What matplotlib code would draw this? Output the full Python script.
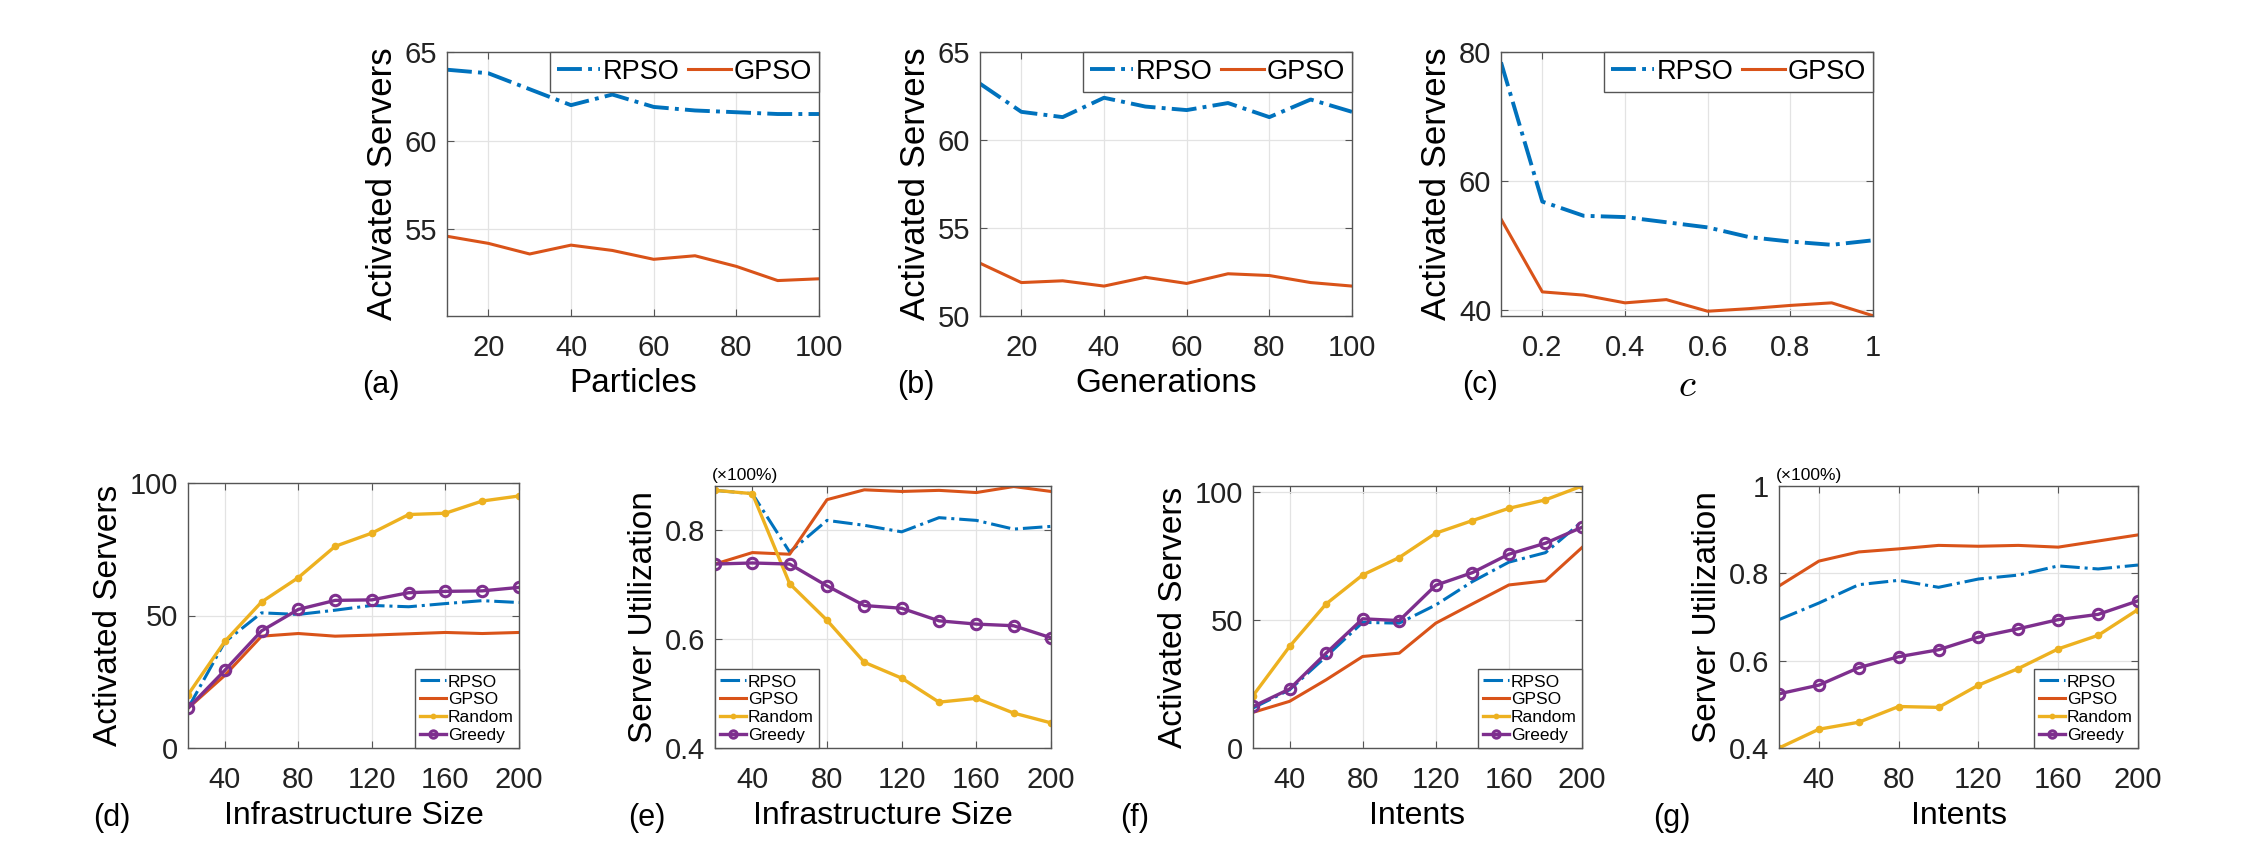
import matplotlib
matplotlib.use("Agg")
import matplotlib.pyplot as plt
from matplotlib.ticker import FuncFormatter

plt.rcParams['font.family'] = ['Liberation Sans', 'DejaVu Sans']
plt.rcParams['mathtext.fontset'] = 'cm'

# --- data: top row (parameter sensitivity) ---
particles = [10, 20, 30, 40, 50, 60, 70, 80, 90, 100]
part_rpso = [64.0, 63.8, 62.9, 62.0, 62.6, 61.9, 61.7, 61.6, 61.5, 61.5]
part_gpso = [54.6, 54.2, 53.6, 54.1, 53.8, 53.3, 53.5, 52.9, 52.1, 52.2]

generations = [10, 20, 30, 40, 50, 60, 70, 80, 90, 100]
gen_rpso = [63.2, 61.6, 61.3, 62.4, 61.9, 61.7, 62.1, 61.3, 62.3, 61.6]
gen_gpso = [53.0, 51.9, 52.0, 51.7, 52.2, 51.85, 52.4, 52.3, 51.9, 51.7]

c_vals = [0.1, 0.2, 0.3, 0.4, 0.5, 0.6, 0.7, 0.8, 0.9, 1.0]
c_rpso = [78.4, 56.8, 54.6, 54.4, 53.6, 52.8, 51.3, 50.6, 50.1, 50.8]
c_gpso = [54.1, 42.8, 42.3, 41.1, 41.6, 39.8, 40.2, 40.7, 41.1, 39.1]

# --- data: bottom row (comparison) ---
sizes = [20, 40, 60, 80, 100, 120, 140, 160, 180, 200]
infra_act_rpso = [15.0, 40.0, 51.0, 50.4, 52.0, 53.8, 53.3, 54.5, 55.6, 54.9]
infra_act_gpso = [15.0, 27.4, 42.2, 43.2, 42.2, 42.6, 43.1, 43.6, 43.2, 43.6]
infra_act_random = [20.1, 40.2, 55.1, 64.3, 76.1, 81.1, 88.1, 88.6, 93.2, 95.1]
infra_act_greedy = [15.0, 29.3, 44.2, 52.3, 55.7, 55.9, 58.6, 59.1, 59.3, 60.6]

infra_util_rpso = [0.872, 0.866, 0.759, 0.817, 0.808, 0.796, 0.822, 0.817, 0.801, 0.806]
infra_util_gpso = [0.737, 0.758, 0.755, 0.855, 0.873, 0.870, 0.872, 0.868, 0.879, 0.870]
infra_util_random = [0.872, 0.866, 0.701, 0.634, 0.557, 0.528, 0.484, 0.491, 0.464, 0.446]
infra_util_greedy = [0.737, 0.739, 0.737, 0.697, 0.661, 0.656, 0.633, 0.627, 0.624, 0.602]

intents = [20, 40, 60, 80, 100, 120, 140, 160, 180, 200]
int_act_rpso = [15.6, 22.7, 35.7, 49.0, 48.7, 55.8, 64.9, 72.5, 76.2, 88.3]
int_act_gpso = [13.9, 18.2, 26.6, 35.7, 37.0, 48.7, 56.2, 63.6, 65.2, 78.2]
int_act_random = [20.4, 39.6, 56.2, 67.5, 74.3, 83.8, 88.7, 93.5, 96.8, 102.2]
int_act_greedy = [16.2, 23.0, 37.0, 50.4, 49.7, 63.5, 68.4, 75.6, 79.9, 86.1]

int_util_rpso = [0.694, 0.732, 0.774, 0.784, 0.768, 0.787, 0.796, 0.817, 0.810, 0.819]
int_util_gpso = [0.771, 0.828, 0.849, 0.856, 0.864, 0.862, 0.864, 0.860, 0.874, 0.888]
int_util_random = [0.400, 0.443, 0.459, 0.495, 0.493, 0.544, 0.582, 0.627, 0.658, 0.717]
int_util_greedy = [0.524, 0.544, 0.584, 0.609, 0.625, 0.654, 0.673, 0.694, 0.706, 0.737]

C_RPSO = '#0072BD'
C_GPSO = '#D95319'
C_RAND = '#EDB120'
C_GREEDY = '#7E2F8E'

W, H = 2252, 864
fig = plt.figure(figsize=(W / 100, H / 100), dpi=100, facecolor='white')


def add_ax(left, top, right, bottom):
    # pixel box -> figure fraction
    return fig.add_axes([left / W, 1 - bottom / H, (right - left) / W, (bottom - top) / H])


gfmt = FuncFormatter(lambda v, p: '%g' % v)


def style(ax, tick_fs):
    ax.grid(True, color='#e3e3e3', lw=0.9)
    ax.set_axisbelow(True)
    for s in ax.spines.values():
        s.set_color('#555555')
        s.set_linewidth(1.0)
    ax.tick_params(direction='in', top=True, right=True, length=5, width=0.8,
                   color='#555555', labelsize=tick_fs, labelcolor='#222222')
    ax.tick_params(axis='x', pad=13)
    ax.tick_params(axis='y', pad=7)
    ax.xaxis.set_major_formatter(gfmt)
    ax.yaxis.set_major_formatter(gfmt)


# ---- top row ----
top_specs = [
    (447, 819, particles, part_rpso, part_gpso, (10, 100), (50.1, 65), [55, 60, 65], [20, 40, 60, 80, 100], 'Particles', '(a)', 362),
    (980, 1352, generations, gen_rpso, gen_gpso, (10, 100), (50, 65), [50, 55, 60, 65], [20, 40, 60, 80, 100], 'Generations', '(b)', 897),
    (1501, 1873, c_vals, c_rpso, c_gpso, (0.1, 1.0), (39.06, 80), [40, 60, 80], [0.2, 0.4, 0.6, 0.8, 1.0], '$c$', '(c)', 1462),
]
for left, right, xs, r, g, xl, yl, yt, xt, xlab, plab, px in top_specs:
    ax = add_ax(left, 52, right, 316)
    ax.plot(xs, r, '-.', color=C_RPSO, lw=2.8, label='RPSO')
    ax.plot(xs, g, '-', color=C_GPSO, lw=2.2, label='GPSO')
    ax.set_xlim(*xl)
    ax.set_ylim(*yl)
    ax.set_yticks(yt)
    ax.set_xticks(xt)
    style(ax, 21)
    if xlab == '$c$':
        ax.set_xlabel(xlab, fontsize=28, labelpad=4)
    else:
        ax.set_xlabel(xlab, fontsize=24, labelpad=4)
    ax.set_ylabel('Activated Servers', fontsize=25, labelpad=4)
    leg = ax.legend(loc='upper right', ncol=2, fontsize=19.5, borderaxespad=0,
                    fancybox=False, framealpha=1, edgecolor='#555555',
                    handlelength=1.6, handletextpad=0.1, columnspacing=0.3,
                    borderpad=0.25)
    leg.get_frame().set_linewidth(1.0)
    fig.text(px / W, 1 - 385 / H, plab, fontsize=22, va='center', ha='left')

# ---- bottom row ----
bottom_specs = [
    (188, 483, 519, sizes, infra_act_rpso, infra_act_gpso, infra_act_random, infra_act_greedy,
     (0, 100), [0, 50, 100], 'Activated Servers', 'Infrastructure Size', 'lower right', '(d)', 93, False),
    (715, 486, 1051, sizes, infra_util_rpso, infra_util_gpso, infra_util_random, infra_util_greedy,
     (0.4, 0.88), [0.4, 0.6, 0.8], 'Server Utilization', 'Infrastructure Size', 'lower left', '(e)', 628, True),
    (1253, 486, 1582, intents, int_act_rpso, int_act_gpso, int_act_random, int_act_greedy,
     (0, 102.2), [0, 50, 100], 'Activated Servers', 'Intents', 'lower right', '(f)', 1120, False),
    (1779, 486, 2138, intents, int_util_rpso, int_util_gpso, int_util_random, int_util_greedy,
     (0.4, 1.0), [0.4, 0.6, 0.8, 1.0], 'Server Utilization', 'Intents', 'lower right', '(g)', 1653, True),
]
for left, top, right, xs, r, g, rnd, gr, yl, yt, ylab, xlab, lloc, plab, px, pct in bottom_specs:
    ax = add_ax(left, top, right, 748)
    ax.plot(xs, r, '-.', color=C_RPSO, lw=2.2, label='RPSO')
    ax.plot(xs, g, '-', color=C_GPSO, lw=2.2, label='GPSO')
    ax.plot(xs, rnd, '-', color=C_RAND, lw=2.4, marker='o', ms=4.5, label='Random')
    ax.plot(xs, gr, '-', color=C_GREEDY, lw=2.4, marker='o', ms=7.5, mfc='none', mew=2.2, label='Greedy')
    ax.set_xlim(20, 200)
    ax.set_xticks([40, 80, 120, 160, 200])
    ax.set_ylim(*yl)
    ax.set_yticks(yt)
    style(ax, 21)
    ax.set_xlabel(xlab, fontsize=23, labelpad=5)
    ax.set_ylabel(ylab, fontsize=24, labelpad=4)
    leg = ax.legend(loc=lloc, fontsize=12.5, borderaxespad=0, fancybox=False,
                    framealpha=1, edgecolor='#555555', handlelength=1.5,
                    handletextpad=0.1, labelspacing=0.15, borderpad=0.3,
                    markerscale=0.7)
    leg.get_frame().set_linewidth(1.0)
    if pct:
        ax.text(-0.01, 1.01, '(\u00d7100%)', transform=ax.transAxes, fontsize=12.5,
                ha='left', va='bottom')
    fig.text(px / W, 1 - 818 / H, plab, fontsize=22, va='center', ha='left')

fig.savefig('out.png', dpi=100, facecolor='white')
